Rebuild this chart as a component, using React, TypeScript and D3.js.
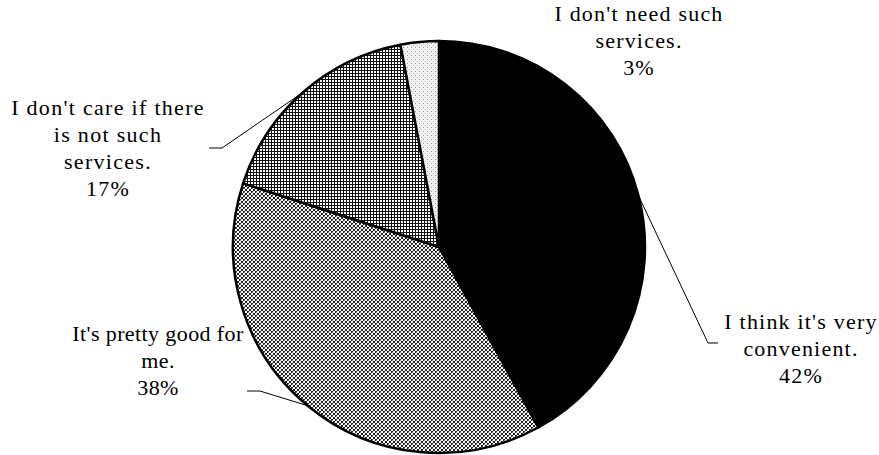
import React from "react";
import * as d3 from "d3";

// Survey answers, clockwise from 12 o'clock
const categories = [
  "I think it's very convenient.",
  "It's pretty good for me.",
  "I don't care if there is not such services.",
  "I don't need such services.",
];
const values = [42, 38, 17, 3];
const labelLines = [
  ["I think it's very", "convenient.", "42%"],
  ["It's pretty good for", "me.", "38%"],
  ["I don't care if there", "is not such", "services.", "17%"],
  ["I don't need such", "services.", "3%"],
];
const fills = ["#000", "url(#diag)", "url(#grid)", "url(#dots)"];

// Label placement: text centre x, first baseline, tracking, and leader elbow/end (null = no leader)
const labelLayout = [
  { x: 801, y: 329, track: 1.2, elbow: [708, 343], end: [718, 343] },
  { x: 158, y: 341, track: 0.4, elbow: [260, 391], end: [247, 391] },
  { x: 108, y: 115, track: 1.3, elbow: [222, 148], end: [209, 148] },
  { x: 639, y: 21, track: 1.2, elbow: null, end: null },
];

const W = 879;
const H = 455;
const cx = 439;
const cy = 247;
const R = 206;
const lineH = 27;

export default function App() {
  const pie = d3
    .pie<number>()
    .sort(null)
    .value((d) => d)
    .startAngle(0)
    .endAngle(2 * Math.PI);
  const arcs = pie(values);
  const arc = d3.arc<d3.PieArcDatum<number>>().innerRadius(0).outerRadius(R);

  return (
    <svg
      width={W}
      height={H}
      style={{ position: "absolute", left: 0, top: 0, background: "#fff" }}
    >
      <defs>
        <pattern id="diag" width="4" height="4" patternUnits="userSpaceOnUse">
          <rect width="4" height="4" fill="#fff" />
          <rect x="0" y="0" width="2" height="2" fill="#222" />
          <rect x="2" y="2" width="2" height="2" fill="#222" />
          <rect x="1" y="1" width="1" height="1" fill="#888" />
        </pattern>
        <pattern id="grid" width="3" height="3" patternUnits="userSpaceOnUse">
          <rect width="3" height="3" fill="#fff" />
          <rect x="0" y="0" width="3" height="1" fill="#111" />
          <rect x="0" y="0" width="1" height="3" fill="#111" />
        </pattern>
        <pattern id="dots" width="4" height="4" patternUnits="userSpaceOnUse">
          <rect width="4" height="4" fill="#f2f2f2" />
          <rect x="0" y="0" width="1" height="1" fill="#999" />
          <rect x="2" y="2" width="1" height="1" fill="#bbb" />
        </pattern>
      </defs>
      <g transform={`translate(${cx},${cy})`}>
        {arcs.map((a, i) => (
          <path
            key={categories[i]}
            d={arc(a) || ""}
            fill={fills[i]}
            stroke="#000"
            strokeWidth={2.5}
            strokeLinejoin="round"
          />
        ))}
      </g>
      {arcs.map((a, i) => {
        const L = labelLayout[i];
        if (!L.elbow || !L.end) return null;
        const mid = (a.startAngle + a.endAngle) / 2;
        const tx = cx + R * Math.sin(mid);
        const ty = cy - R * Math.cos(mid);
        return (
          <polyline
            key={"leader-" + i}
            points={`${tx},${ty} ${L.elbow[0]},${L.elbow[1]} ${L.end[0]},${L.end[1]}`}
            fill="none"
            stroke="#000"
            strokeWidth={1}
          />
        );
      })}
      {labelLines.map((lines, i) => (
        <text
          key={"label-" + i}
          x={labelLayout[i].x}
          y={labelLayout[i].y}
          textAnchor="middle"
          fontFamily="Liberation Serif"
          fontSize={22}
          letterSpacing={labelLayout[i].track}
          fill="#000"
        >
          {lines.map((t, j) => (
            <tspan key={j} x={labelLayout[i].x} dy={j === 0 ? 0 : lineH}>
              {t}
            </tspan>
          ))}
        </text>
      ))}
    </svg>
  );
}
